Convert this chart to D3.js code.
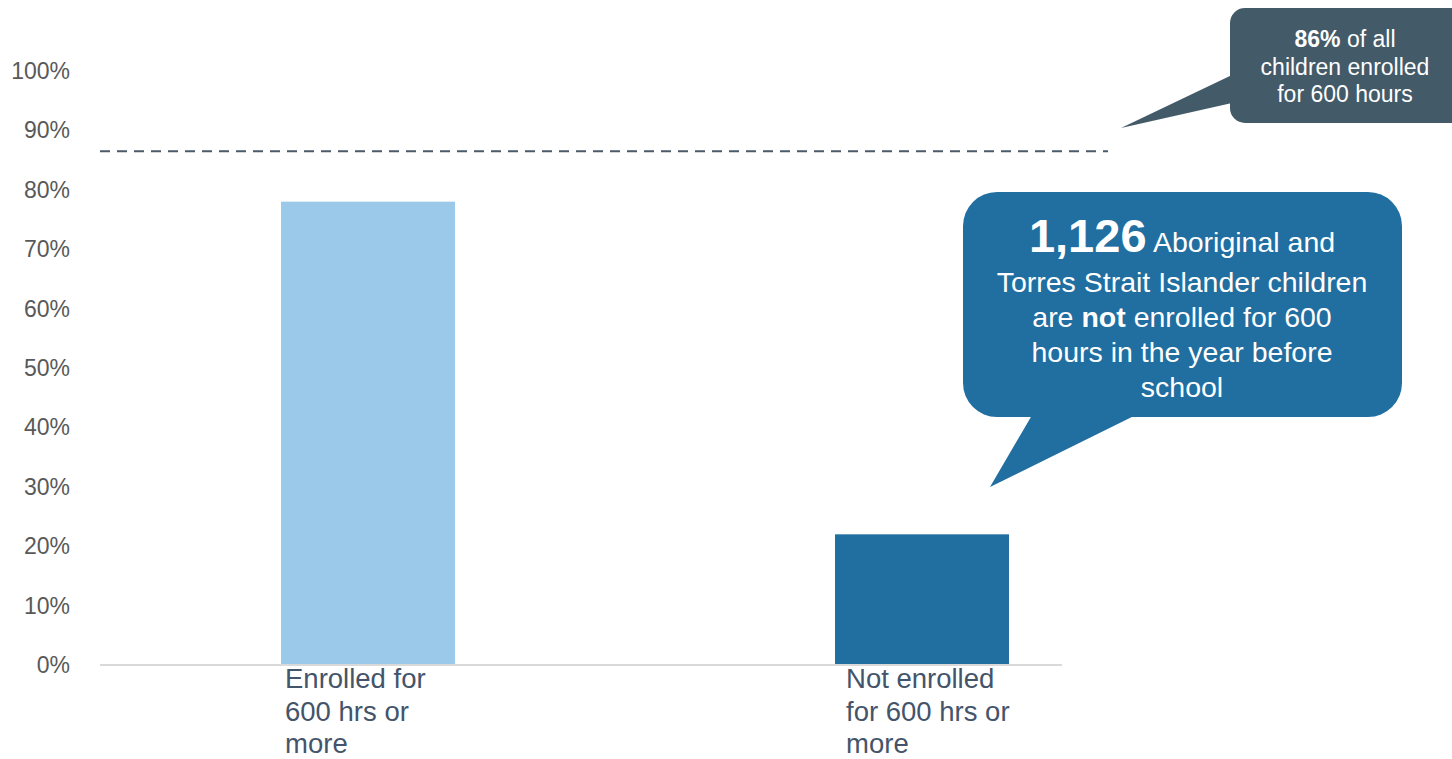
<!DOCTYPE html>
<html>
<head>
<meta charset="utf-8">
<script src="https://cdn.jsdelivr.net/npm/d3@7"></script>
<style>
  html, body { margin: 0; padding: 0; background: #ffffff; }
  svg { display: block; font-family: "Liberation Sans", Arial, sans-serif; }
</style>
</head>
<body>
<svg id="chart" width="1452" height="759"></svg>
<script>
// ---- data ----
const categories = ["Enrolled for 600 hrs or more", "Not enrolled for 600 hrs or more"];
const values = [0.78, 0.22];
const barColors = ["#9ac9ea", "#216ea0"];
const yTicks = [0, 0.1, 0.2, 0.3, 0.4, 0.5, 0.6, 0.7, 0.8, 0.9, 1.0];
const benchmark = 0.865;        // all children enrolled for 600 hours (line position)
const benchmarkLabel = "86%";   // as printed in the callout
const notEnrolledCount = 1126;  // Aboriginal and Torres Strait Islander children not enrolled

// ---- layout ----
const svg = d3.select("#chart");
const y = d3.scaleLinear().domain([0, 1]).range([665, 71]);
const x = d3.scaleBand().domain(categories).range([91, 1199])
  .paddingInner(0.686).paddingOuter(0.343);

// y tick labels
const fmtPct = d3.format(".0%");
svg.append("g").selectAll("text").data(yTicks).join("text")
  .attr("x", 70).attr("y", d => y(d)).attr("dy", "0.35em")
  .attr("text-anchor", "end")
  .attr("font-size", 23).attr("fill", "#595959")
  .text(d => fmtPct(d));

// bars
svg.append("g").selectAll("rect").data(categories).join("rect")
  .attr("x", d => x(d)).attr("width", x.bandwidth())
  .attr("y", (d, i) => y(values[i]))
  .attr("height", (d, i) => y(0) - y(values[i]))
  .attr("fill", (d, i) => barColors[i]);

// baseline axis
svg.append("line")
  .attr("x1", 100).attr("x2", 1062).attr("y1", y(0)).attr("y2", y(0))
  .attr("stroke", "#d9d9d9").attr("stroke-width", 2);

// category labels with wrapping
function wrap(textSel, width, lineH) {
  textSel.each(function(d) {
    const text = d3.select(this);
    const words = d.split(/\s+/);
    const xPos = +text.attr("x");
    let line = [];
    let tspan = text.text(null).append("tspan").attr("x", xPos).attr("dy", 0);
    for (const w of words) {
      line.push(w);
      tspan.text(line.join(" "));
      if (tspan.node().getComputedTextLength() > width && line.length > 1) {
        line.pop();
        tspan.text(line.join(" "));
        line = [w];
        tspan = text.append("tspan").attr("x", xPos).attr("dy", lineH).text(w);
      }
    }
  });
}
svg.append("g").selectAll("text").data(categories).join("text")
  .attr("x", (d, i) => x(d) + (i === 0 ? 4 : 11))
  .attr("y", 688)
  .attr("font-size", 27.5).attr("fill", "#44546a")
  .call(wrap, 175, 32.5);

// benchmark dashed line
svg.append("line")
  .attr("x1", 100).attr("x2", 1108)
  .attr("y1", y(benchmark)).attr("y2", y(benchmark))
  .attr("stroke", "#4a5b6b").attr("stroke-width", 2)
  .attr("stroke-dasharray", "10,7");

// callout 1 (benchmark)
const c1 = svg.append("g");
c1.append("rect").attr("x", 1230).attr("y", 8).attr("width", 236).attr("height", 115)
  .attr("rx", 15).attr("fill", "#435a69");
c1.append("path").attr("d", "M1232,75 L1121,128 L1232,103 Z").attr("fill", "#435a69");
const t1 = c1.append("text").attr("text-anchor", "middle").attr("fill", "#ffffff").attr("font-size", 23);
const l1 = t1.append("tspan").attr("x", 1345).attr("y", 47);
l1.append("tspan").attr("font-weight", "bold").text(benchmarkLabel);
l1.append("tspan").text(" of all");
t1.append("tspan").attr("x", 1345).attr("y", 75).text("children enrolled");
t1.append("tspan").attr("x", 1345).attr("y", 102).text("for 600 hours");

// callout 2 (count)
const c2 = svg.append("g");
c2.append("rect").attr("x", 963).attr("y", 192).attr("width", 439).attr("height", 225)
  .attr("rx", 34).attr("fill", "#216ea0");
c2.append("path").attr("d", "M1035,410 L990,487 L1146,410 Z").attr("fill", "#216ea0");
const t2 = c2.append("text").attr("text-anchor", "middle").attr("fill", "#ffffff").attr("font-size", 28.5);
const cx2 = 1182;
const a = t2.append("tspan").attr("x", cx2).attr("y", 252);
a.append("tspan").attr("font-weight", "bold").attr("font-size", 47).text(d3.format(",")(notEnrolledCount));
a.append("tspan").text(" Aboriginal and");
t2.append("tspan").attr("x", cx2).attr("y", 292).text("Torres Strait Islander children");
const b = t2.append("tspan").attr("x", cx2).attr("y", 327);
b.append("tspan").text("are ");
b.append("tspan").attr("font-weight", "bold").text("not");
b.append("tspan").text(" enrolled for 600");
t2.append("tspan").attr("x", cx2).attr("y", 362).text("hours in the year before");
t2.append("tspan").attr("x", cx2).attr("y", 397).text("school");
</script>
</body>
</html>
